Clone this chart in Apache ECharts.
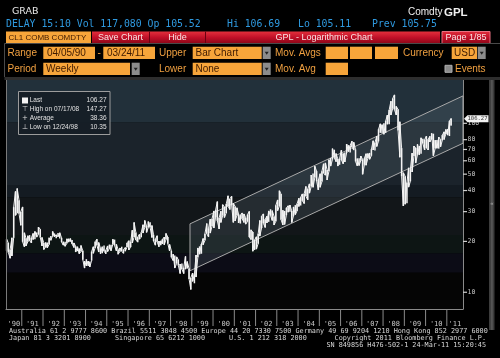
<!DOCTYPE html>
<html><head><meta charset="utf-8">
<script src="https://cdn.jsdelivr.net/npm/echarts@6/dist/echarts.min.js"></script>
<style>html,body{margin:0;padding:0;background:#000;}#c{width:500px;height:358px;}</style>
</head><body><div id="c"></div>
<script>
// ---- DATA ----
const startYear = 1990, startMonthIndex = 3; // first bar: April 1990
const monthlyLows = [
 17.6,17.2,15.9,16.4,21.0,28.5,29.5,29.2,24.9,
 19.9,18.6,18.8,19.9,20.2,19.6,20.5,20.6,21.2,22.0,21.1,18.8,
 17.9,18.5,18.3,19.2,20.3,21.6,21.3,20.9,21.3,20.8,19.8,19.0,
 18.7,19.5,19.8,19.9,19.3,18.4,17.3,17.5,16.9,17.4,15.6,13.9,
 14.3,14.3,14.1,15.4,17.0,18.3,19.0,17.3,16.9,17.0,17.5,16.9,
 17.4,18.1,17.6,19.2,18.9,17.6,16.8,17.4,17.5,17.0,17.5,18.5,
 17.8,18.5,19.6,21.2,20.4,19.8,20.6,21.2,22.4,24.2,22.6,24.2,
 24.2,21.1,20.1,19.0,19.9,18.6,19.0,19.3,19.1,20.5,19.4,17.6,
 16.1,15.4,13.9,14.8,14.4,12.9,13.7,12.9,13.7,13.8,12.0,10.4,
 11.6,11.3,12.3,16.1,16.8,16.9,19.1,20.3,22.2,21.3,22.4,24.6,
 24.0,27.9,26.5,23.7,25.9,28.4,27.7,29.5,32.3,30.9,32.9,25.9,
 26.4,28.5,25.7,25.5,27.2,25.9,25.3,26.2,21.2,20.5,17.5,17.8,
 18.0,19.4,21.5,24.0,25.6,24.2,25.7,26.1,28.4,26.6,25.0,26.3,
 30.4,32.3,26.9,25.0,25.2,28.6,29.8,30.0,25.9,28.3,28.8,30.3,
 32.2,32.6,34.8,33.5,37.1,35.2,38.6,42.2,41.8,47.7,45.6,40.3,
 41.8,45.2,50.7,49.3,46.2,52.0,55.8,61.1,62.5,59.3,55.8,56.8,
 60.7,57.6,59.0,66.8,68.0,67.1,72.3,69.4,59.5,56.0,56.2,60.1,
 49.9,56.8,56.5,62.0,61.2,64.3,69.5,69.0,72.9,78.3,88.1,87.2,
 86.1,87.7,98.7,98.6,111.9,122.0,120.4,112.0,90.5,63.0,48.5,32.4,
 33.2,33.6,41.9,45.4,51.5,64.0,58.3,65.2,65.1,66.0,76.0,69.5,
 71.5,69.5,77.6,80.6,64.2,71.0,71.1,70.8,72.6,79.2,80.1,86.4,
 85.1,84.1,96.9
];
const monthlyHighs = [
 20.6,19.6,17.9,21.0,31.9,39.5,41.1,35.0,30.0,
 32.0,22.5,20.9,21.6,21.8,21.0,22.3,22.9,22.6,24.3,23.6,21.1,
 19.6,19.7,19.7,21.0,21.5,22.9,22.3,21.9,22.4,22.5,21.0,19.9,
 19.9,20.7,20.8,20.8,20.4,19.6,18.7,18.6,18.2,18.9,17.6,15.3,
 15.7,15.3,15.2,17.4,18.6,19.9,20.6,19.7,18.2,18.6,18.9,17.7,
 18.8,19.1,19.1,20.6,20.5,19.2,17.9,18.3,18.6,17.9,18.4,19.6,
 20.2,19.9,23.3,25.9,22.6,21.2,22.0,22.6,25.1,26.6,24.6,26.2,
 26.0,24.8,21.9,20.6,21.6,20.1,20.2,20.6,21.2,22.3,21.2,19.2,
 17.6,16.8,16.5,16.2,15.6,14.7,14.8,14.0,16.3,15.2,13.8,12.2,
 13.0,12.8,16.6,18.3,18.7,19.3,20.8,22.2,25.5,23.9,27.1,27.2,
 30.3,30.8,34.4,27.6,30.2,33.0,32.0,33.3,37.2,35.7,37.0,33.6,
 32.2,31.6,29.0,28.6,29.5,29.1,27.6,28.8,30.1,23.4,22.7,20.4,
 21.3,22.2,26.6,28.2,29.1,27.0,28.2,30.3,31.0,30.4,28.1,32.7,
 35.2,39.9,38.1,30.6,30.3,31.6,32.5,32.8,30.3,32.0,32.8,33.4,
 36.0,36.5,38.2,38.3,42.3,40.8,43.8,49.4,50.5,55.7,52.1,46.1,
 50.3,52.1,57.6,58.3,53.0,60.9,62.3,70.8,69.8,66.2,61.5,61.9,
 69.3,66.2,67.2,75.4,74.3,74.0,78.4,77.2,70.0,61.8,62.2,64.0,
 61.1,62.2,66.1,66.2,66.8,70.2,78.8,76.9,83.9,92.2,99.3,98.2,
 100.1,103.1,111.8,119.9,135.1,140.4,147.3,126.0,120.9,102.1,71.3,51.0,
 48.6,44.7,54.5,53.5,66.6,73.4,71.4,75.0,73.4,82.0,81.0,80.0,
 83.9,80.5,83.8,87.2,86.8,79.4,79.7,82.9,80.2,85.0,89.0,92.0,
 92.6,103.4,106.7
];
const yTickValues = [10,20,30,40,50,60,70,80,100];
const years = [1990,1991,1992,1993,1994,1995,1996,1997,1998,1999,2000,2001,2002,2003,2004,2005,2006,2007,2008,2009,2010,2011];
const yearLabels = ["'90","'91","'92","'93","'94","'95","'96","'97","'98","'99","'00","'01","'02","'03","'04","'05","'06","'07","'08","'09","'10","'11"];
const bandEdges = [13.1,17.0,21.8,36.5,43.1,101];
const channelDates = ['1998-12-01','2011-10-06'];
const channelUpper = [25.4,145.3];
const channelLower = [13.4,76.2];
const lastPrice = 106.27;
const legendLabels = ['Last','High on 07/17/08','Average','Low on 12/24/98'];
const legendValues = ['106.27','147.27','38.36','10.35'];

// ---- AXIS LIMITS ----
const xMin = Date.UTC(1990,3,5), xMax = Date.UTC(2011,9,6);
const yMin = 7.96, yMax = 180.4;

const monthDates = monthlyLows.map((l,i)=>Date.UTC(startYear,startMonthIndex+i,15));
const priceData = monthlyLows.map((l,i)=>[monthDates[i], l, monthlyHighs[i]]);
const zigzag = [];
monthlyLows.forEach((l,i)=>{ if(i%2===0){zigzag.push([monthDates[i],l],[monthDates[i],monthlyHighs[i]]);} else {zigzag.push([monthDates[i],monthlyHighs[i]],[monthDates[i],l]);} });
const bandColors = ['#050505','#0c0c16','#0d1514','#121619','#141b22','#1b232b','#22303a'];
const bandLevels = [yMin].concat(bandEdges,[yMax]);
const bandAreas = bandColors.map((c,i)=>[{yAxis:bandLevels[i],itemStyle:{color:c}},{yAxis:bandLevels[i+1]}]);

// ---- GRAPHICS ----
const G = [];
const UI = '"Liberation Sans", Arial, sans-serif';
const MONO = '"DejaVu Sans Mono", monospace';
function txt(x,y,s,o){G.push({type:'text',z:100,x:x,y:y,silent:true,style:Object.assign({text:s,fill:'#ddd',font:'10px '+UI,verticalAlign:'middle'},o||{})});}
function rect(x,y,w,h,fill,stroke){G.push({type:'rect',z:100,shape:{x:x,y:y,width:w,height:h},silent:true,style:{fill:fill,stroke:stroke||null,lineWidth:1}});}
const ORANGE='#f7a53a', LABEL='#f0a040', BOXTXT='#3e1a00';
function arrow(x,y){rect(x,y,8,12.3,'#8c8c8c');G.push({type:'polygon',z:101,silent:true,shape:{points:[[x+2,y+5],[x+6,y+5],[x+4,y+8]]},style:{fill:'#222'}});}
// header
txt(12,12,'GRAB',{font:'9.5px "DejaVu Sans"',fill:'#e8e8e8'});
txt(408,12,'Comdty',{font:'10px '+UI,fill:'#f0f0f0'});
txt(444,12.5,'GPL',{font:'bold 11.5px '+UI,fill:'#f0f0f0'});
[['DELAY 15:10 Vol 117,080 Op 105.52',6],['Hi 106.69',227],['Lo 105.11',298],['Prev 105.75',372]].forEach(a=>txt(a[1],24.5,a[0],{font:'9.8px '+MONO,fill:'#2f9ae0'}));
// toolbar
rect(6,31.5,85,12,ORANGE);
txt(8.5,37.8,'CL1 COMB COMDTY',{font:'8px '+UI,fill:BOXTXT});
const redGrad={type:'linear',x:0,y:0,x2:0,y2:1,colorStops:[{offset:0,color:'#e2303c'},{offset:0.5,color:'#c01028'},{offset:1,color:'#8c0618'}]};
rect(92,31.5,348,12,redGrad);
rect(149,31.5,1,12,'#6a0010');rect(205,31.5,1,12,'#6a0010');
txt(120.5,37.8,'Save Chart',{font:'9px '+UI,fill:'#fbe4e4',align:'center'});
txt(177.5,37.8,'Hide',{font:'9px '+UI,fill:'#fbe4e4',align:'center'});
txt(324,37.8,'GPL - Logarithmic Chart',{font:'9px '+UI,fill:'#fbe4e4',align:'center'});
rect(442,31.5,48,12,redGrad,'#e87080');
txt(466,37.8,'Page 1/85',{font:'9px '+UI,fill:'#fbe4e4',align:'center'});
// panel
G.push({type:'polyline',z:100,silent:true,shape:{points:[[500,43.5],[4.5,43.5],[4.5,77]]},style:{stroke:'#4a4a4a',lineWidth:1,fill:null}});
const r1=46.7,r2=62.7,bh=12.3;
txt(7.5,r1+6.2,'Range',{fill:LABEL});
rect(43.3,r1,51.7,bh,ORANGE);txt(47,r1+6.2,'04/05/90',{fill:BOXTXT});
txt(97.5,r1+6.2,'-',{fill:LABEL});
rect(103.3,r1,51.7,bh,ORANGE);txt(107,r1+6.2,'03/24/11',{fill:BOXTXT});
txt(159,r1+6.2,'Upper',{fill:LABEL});
rect(192.7,r1,69,bh,ORANGE);txt(195.5,r1+6.2,'Bar Chart',{fill:BOXTXT});arrow(262.7,r1);
txt(275,r1+6.2,'Mov. Avgs',{fill:LABEL});
rect(325.7,r1,22.3,bh,ORANGE);rect(350,r1,22,bh,ORANGE);rect(375,r1,23,bh,ORANGE);
txt(403,r1+6.2,'Currency',{fill:LABEL});
rect(451.7,r1,25.3,bh,ORANGE);txt(454,r1+6.2,'USD',{fill:BOXTXT});arrow(477.7,r1);
txt(7.5,r2+6.2,'Period',{fill:LABEL});
rect(43.3,r2,86.7,bh,ORANGE);txt(46,r2+6.2,'Weekly',{fill:BOXTXT});arrow(131.7,r2);
txt(159,r2+6.2,'Lower',{fill:LABEL});
rect(192.7,r2,69,bh,ORANGE);txt(195.5,r2+6.2,'None',{fill:BOXTXT});arrow(262.7,r2);
txt(275,r2+6.2,'Mov. Avg',{fill:LABEL});
rect(325.7,r2,22.3,bh,ORANGE);
rect(445,65.3,7,7,'#8a8a8a','#b0b0b0');
txt(455,r2+6.2,'Events',{fill:LABEL});
rect(4.5,77,495.5,3,'#2e2e2e');
// scrollbar
rect(489,80,5.5,250,'#3c3c3c');rect(490.8,80,2,250,'#555');
txt(491.8,203,'«',{font:'6px '+UI,fill:'#aaa',align:'center'});
// legend box
rect(18.5,91.5,91.5,43,'rgba(22,30,38,0.92)','#9c9c9c');
rect(22,97.5,6,6,'#f4f4f4');
const LF='6.5px '+UI;
txt(25,109.3,'⊤',{font:'7px "DejaVu Sans"',fill:'#ddd',align:'center'});
txt(25,118.3,'+',{font:'7px "DejaVu Sans"',fill:'#ddd',align:'center'});
txt(25,127.3,'⊥',{font:'7px "DejaVu Sans"',fill:'#ddd',align:'center'});
legendLabels.forEach((s,i)=>{txt(29.7,100.7+i*8.9,s,{font:LF,fill:'#e2e2e2'});txt(106.5,100.7+i*8.9,legendValues[i],{font:LF,fill:'#e2e2e2',align:'right'});});
// footer
const FF='6.8px '+MONO;
txt(9,331.3,'Australia 61 2 9777 8600 Brazil 5511 3048 4500 Europe 44 20 7330 7500 Germany 49 69 9204 1210 Hong Kong 852 2977 6000',{font:FF,fill:'#d8d8d8'});
txt(9,338.3,'Japan 81 3 3201 8900',{font:FF,fill:'#d8d8d8'});
txt(115,338.3,'Singapore 65 6212 1000',{font:FF,fill:'#d8d8d8'});
txt(229,338.3,'U.S. 1 212 318 2000',{font:FF,fill:'#d8d8d8'});
txt(486,338.3,'Copyright 2011 Bloomberg Finance L.P.',{font:FF,fill:'#d8d8d8',align:'right'});
txt(486,345.3,'SN 849856 H476-502-1 24-Mar-11 15:20:45',{font:FF,fill:'#d8d8d8',align:'right'});
// left border of plot
G.push({type:'line',z:100,silent:true,shape:{x1:6.5,y1:80,x2:6.5,y2:309},style:{stroke:'#7a7a7a',lineWidth:1}});

const chart = echarts.init(document.getElementById('c'),null,{renderer:'canvas'});
chart.setOption({
  backgroundColor:'#000',
  animation:false,
  grid:{left:6,top:80,width:457,height:229},
  xAxis:{type:'time',min:xMin,max:xMax,axisLine:{onZero:false,lineStyle:{color:'#8a8a8a'}},axisTick:{show:false},axisLabel:{show:false},splitLine:{show:false}},
  yAxis:{type:'log',logBase:10,min:yMin,max:yMax,position:'right',axisLine:{show:true,lineStyle:{color:'#8a8a8a'}},axisTick:{show:false},axisLabel:{show:false},splitLine:{show:false}},
  graphic:G,
  series:[
    {type:'line',data:[],z:1,silent:true,markArea:{silent:true,data:bandAreas}},
    {type:'custom',z:2,silent:true,data:[0],renderItem:(p,api)=>{
      const a=api.coord([channelDates[0],channelUpper[0]]),b=api.coord([channelDates[1],channelUpper[1]]),
            c=api.coord([channelDates[1],channelLower[1]]),d=api.coord([channelDates[0],channelLower[0]]);
      return {type:'polygon',shape:{points:[a,b,c,d]},style:{fill:'rgba(115,135,145,0.2)',stroke:'#a8a8a8',lineWidth:1}};
    }},
    {type:'line',z:10,silent:true,data:zigzag,symbol:'none',lineStyle:{color:'#f2f2f2',width:1}},
    {type:'custom',z:11,silent:true,clip:false,data:priceData,renderItem:(p,api)=>{
      const lo=api.coord([api.value(0),api.value(1)]),hi=api.coord([api.value(0),api.value(2)]);
      return {type:'line',shape:{x1:lo[0],y1:lo[1],x2:hi[0],y2:hi[1]},style:{stroke:'#f4f4f4',lineWidth:1.5}};
    }},
    {type:'custom',z:12,silent:true,clip:false,data:yTickValues,renderItem:(p,api)=>{
      const pt=api.coord([xMax,api.value(0)]);
      return {type:'group',children:[
        {type:'line',shape:{x1:pt[0],y1:pt[1],x2:pt[0]+4,y2:pt[1]},style:{stroke:'#d0d0d0',lineWidth:1.2}},
        {type:'text',x:pt[0]+4.5,y:pt[1],style:{text:String(api.value(0)),fill:'#c8c8c8',font:'6.5px '+MONO,verticalAlign:'middle'}}
      ]};
    }},
    {type:'custom',z:12,silent:true,clip:false,data:years,renderItem:(p,api)=>{
      const y=api.value(0);
      const left=api.coord([Math.max(Date.UTC(y,0,1),xMin),yMin]);
      const right=api.coord([Math.min(Date.UTC(y+1,0,1),xMax),yMin]);
      const ch=[{type:'text',x:(left[0]+right[0])/2,y:left[1]+15,style:{text:yearLabels[p.dataIndex],fill:'#c8c8c8',font:'7px '+MONO,align:'center',verticalAlign:'middle'}}];
      if(Date.UTC(y,0,1)>xMin) ch.push({type:'line',shape:{x1:left[0],y1:left[1],x2:left[0],y2:left[1]+17},style:{stroke:'#8a8a8a',lineWidth:1}});
      return {type:'group',children:ch};
    }},
    {type:'custom',z:13,silent:true,clip:false,data:[lastPrice],renderItem:(p,api)=>{
      const pt=api.coord([xMax,api.value(0)]);const x=pt[0]+1,y=pt[1];
      return {type:'group',children:[
        {type:'polygon',shape:{points:[[x,y],[x+3.5,y-3.5],[x+24.5,y-3.5],[x+24.5,y+3.5],[x+3.5,y+3.5]]},style:{fill:'#f2f2f2'}},
        {type:'text',x:x+3.4,y:y,style:{text:lastPrice.toFixed(2),fill:'#333',font:'5.6px '+MONO,verticalAlign:'middle'}}
      ]};
    }}
  ]
});
</script></body></html>
